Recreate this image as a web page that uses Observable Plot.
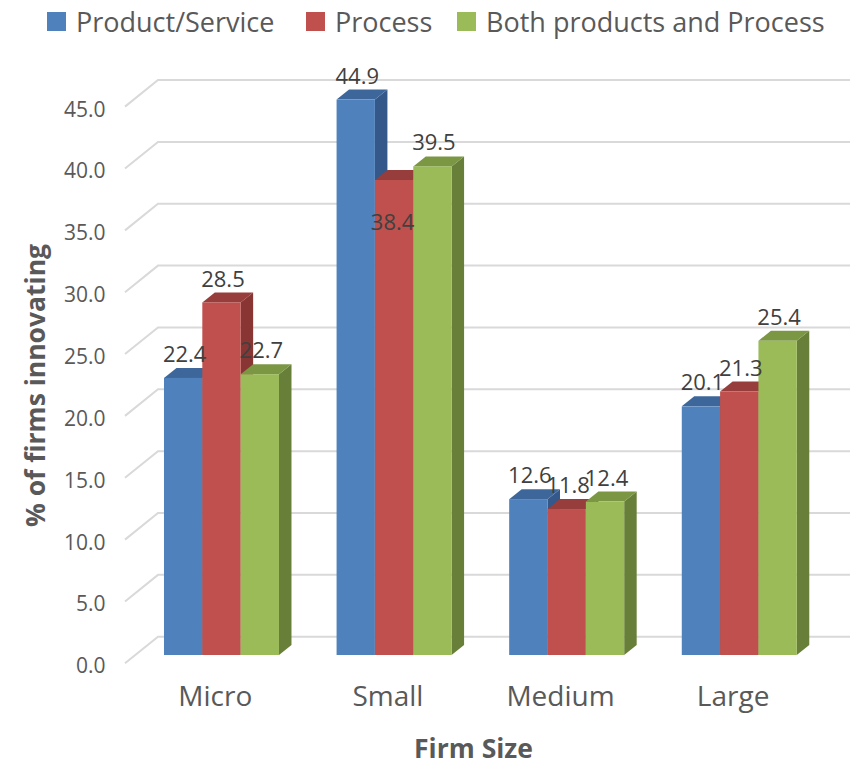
<!DOCTYPE html>
<html><head><meta charset="utf-8">
<script src="https://cdn.jsdelivr.net/npm/d3@7"></script>
<script src="https://cdn.jsdelivr.net/npm/@observablehq/plot@0.6"></script>
<style>
body{margin:0;background:#fff;font-family:"Open Sans",sans-serif;}
#legend{position:relative;height:42px;font-size:27px;color:#595959;white-space:nowrap;}
.item{position:absolute;top:0;height:42px;display:flex;align-items:center;}
.sw{width:19px;height:19px;margin-right:10px;flex:none;}
#chart svg{display:block;}
</style></head><body>
<div id="legend"></div><div id="chart"></div>
<script>
// ---- data ----
const sizes = ["Micro", "Small", "Medium", "Large"];
const seriesNames = ["Product/Service", "Process", "Both products and Process"];
const productService = [22.4, 44.9, 12.6, 20.1];
const processVals = [28.5, 38.4, 11.8, 21.3];
const bothVals = [22.7, 39.5, 12.4, 25.4];
const yTicks = [0, 5, 10, 15, 20, 25, 30, 35, 40, 45];
const yTitle = "% of firms innovating";
const xTitle = "Firm Size";
// labels that the original places inside the bar
const insideLabels = new Set(["Small|Process"]);

// ---- styles ----
const fronts = ["#4F81BD", "#C0504D", "#9BBB59"];
const tops = ["#3D679A", "#973D3B", "#7B9744"];
const sides = ["#335889", "#883533", "#677F38"];
const legendX = [47, 306, 457];
const DX = 12.5, DY = -10;

const seriesVals = [productService, processVals, bothVals];
const long = [];
sizes.forEach((s, i) => seriesVals.forEach((arr, j) => long.push({size: s, series: seriesNames[j], j, value: arr[i]})));

// legend
const leg = d3.select("#legend");
seriesNames.forEach((n, j) => {
  const it = leg.append("div").attr("class", "item").style("left", legendX[j] + "px");
  it.append("div").attr("class", "sw").style("background", fronts[j]);
  it.append("span").text(n);
});

const W = 858, H = 724;
const mL = 158, mR = 8, mT = 56.35, mB = 111;
const xOpts = {type: "band", domain: sizes, paddingInner: 0.3337, paddingOuter: 0.1715, align: 0.101, round: false, axis: null};
const BW = d3.scaleBand(sizes, [mL, W - mR]).paddingInner(xOpts.paddingInner).paddingOuter(xOpts.paddingOuter).align(xOpts.align).bandwidth();
const w3 = BW / 3;

const grid = Plot.ruleY(yTicks, {
  y: d => d,
  render: (I, scales, values, dims) => {
    const g = d3.create("svg:g").attr("fill", "none").attr("stroke", "#D9D9D9").attr("stroke-width", 2);
    for (const i of I) {
      const y = values.y[i];
      g.append("polyline").attr("points", [[dims.marginLeft - 33, y + 8.3], [dims.marginLeft, y - 18.3], [dims.width - dims.marginRight, y - 18.3]].map(p => p.join(",")).join(" "));
    }
    return g.node();
  }
});

const bars = Plot.barY(long, {
  x: "size", y1: 0, y2: "value",
  render: (I, scales, values) => {
    const bw = scales.x && scales.x.bandwidth ? scales.x.bandwidth() : BW;
    const w = bw / 3;
    const g = d3.create("svg:g");
    const pts = a => a.map(p => p.join(",")).join(" ");
    for (const i of I) {
      const d = long[i];
      const x0 = values.x[i] + d.j * w;
      const yt = values.y2[i], yb = values.y1[i];
      g.append("polygon").attr("fill", sides[d.j]).attr("points", pts([[x0 + w, yt], [x0 + w + DX, yt + DY], [x0 + w + DX, yb + DY], [x0 + w, yb]]));
      g.append("polygon").attr("fill", tops[d.j]).attr("points", pts([[x0, yt], [x0 + DX, yt + DY], [x0 + w + DX, yt + DY], [x0 + w, yt]]));
      g.append("rect").attr("fill", fronts[d.j]).attr("x", x0).attr("y", yt).attr("width", w).attr("height", yb - yt);
    }
    return g.node();
  }
});

const labelMarks = [0, 1, 2].flatMap(j => [
  Plot.text(long.filter(d => d.j === j && !insideLabels.has(d.size + "|" + d.series)), {
    x: "size", y: "value", text: d => d.value.toFixed(1), dx: (j - 1) * w3 + 1, dy: -23.5,
    fontSize: 22, fill: "#404040"
  }),
  Plot.text(long.filter(d => d.j === j && insideLabels.has(d.size + "|" + d.series)), {
    x: "size", y: "value", text: d => d.value.toFixed(1), dx: (j - 1) * w3 - 2, dy: 42,
    fontSize: 22, fill: "#404040"
  })
]);

const chart = Plot.plot({
  width: W, height: H,
  marginLeft: mL, marginRight: mR, marginTop: mT, marginBottom: mB,
  style: {fontFamily: "'Open Sans', sans-serif", background: "white", overflow: "visible"},
  x: xOpts,
  y: {domain: [0, 45], axis: null},
  marks: [
    grid,
    bars,
    ...labelMarks,
    Plot.text(yTicks, {y: d => d, text: d => d.toFixed(1), frameAnchor: "left", textAnchor: "end", dx: -53, dy: 11, fontSize: 21, fill: "#595959"}),
    Plot.text(sizes, {x: d => d, text: d => d, frameAnchor: "bottom", dx: -6.7, dy: 50, fontSize: 28, fill: "#595959"}),
    Plot.text([xTitle], {text: d => d, frameAnchor: "bottom", textAnchor: "middle", dx: -31, dy: 102, fontSize: 26.5, fontWeight: "bold", fill: "#595959"}),
    Plot.text([yTitle], {text: d => d, frameAnchor: "left", textAnchor: "middle", rotate: -90, dx: -122, dy: 8.3, fontSize: 26.5, fontWeight: "bold", fill: "#595959"})
  ]
});
document.getElementById("chart").appendChild(chart);
</script>
</body></html>
